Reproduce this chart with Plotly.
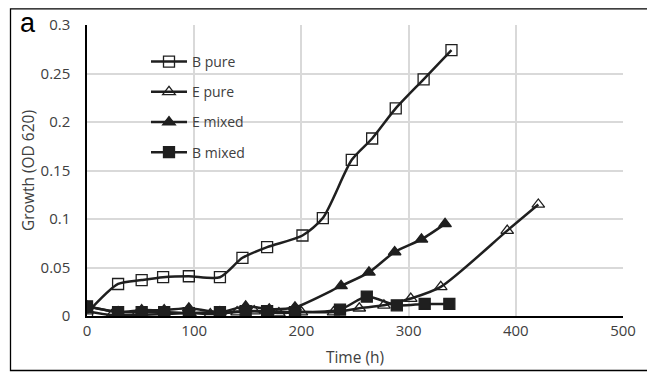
import plotly.graph_objects as go

# Data
b_pure_t = [0, 29, 51, 71, 95, 124, 145, 168, 201, 220, 247, 266, 288, 314, 340]
b_pure_v = [0.003, 0.033, 0.037, 0.040, 0.041, 0.040, 0.060, 0.071, 0.083, 0.101, 0.161, 0.183, 0.214, 0.244, 0.274]

e_pure_t = [0, 23, 46, 72, 96, 115, 140, 156, 179, 200, 230, 254, 277, 302, 330, 392, 421]
e_pure_v = [0.005, 0.001, 0.001, 0.002, 0.003, 0.002, 0.004, 0.005, 0.003, 0.004, 0.004, 0.008, 0.011, 0.018, 0.030, 0.088, 0.115]

e_mixed_t = [0, 29, 51, 72, 95, 124, 148, 170, 194, 237, 263, 287, 312, 334]
e_mixed_v = [0.010, 0.004, 0.006, 0.006, 0.008, 0.004, 0.010, 0.007, 0.009, 0.031, 0.045, 0.066, 0.079, 0.095]

b_mixed_t = [0, 29, 51, 72, 95, 124, 148, 168, 194, 236, 261, 289, 315, 338]
b_mixed_v = [0.010, 0.004, 0.004, 0.004, 0.003, 0.004, 0.005, 0.005, 0.004, 0.0066, 0.020, 0.011, 0.0124, 0.0124]

x_ticks = [0, 100, 200, 300, 400, 500]
y_ticks = [0, 0.05, 0.1, 0.15, 0.2, 0.25, 0.3]
y_ticktext = ["0", "0.05", "0.1", "0.15", "0.2", "0.25", "0.3"]

LINE = "#1f1f1f"
FONT = "Open Sans"
TXT = "#404040"

series = [
    ("B pure", b_pure_t, b_pure_v, "square-open", 11),
    ("E pure", e_pure_t, e_pure_v, "triangle-up-open", 11),
    ("E mixed", e_mixed_t, e_mixed_v, "triangle-up", 11),
    ("B mixed", b_mixed_t, b_mixed_v, "square", 11),
]

fig = go.Figure()
for i, (name, t, v, sym, sz) in enumerate(series):
    fig.add_trace(go.Scatter(
        x=t, y=v, name=name, mode="lines+markers",
        line=dict(color=LINE, width=2.5, shape="spline", smoothing=0.7),
        marker=dict(symbol=sym, size=sz, color=LINE,
                    line=dict(color=LINE, width=1.3)),
        legendgroup=f"g{i}",
    ))

# The page body has an 8px margin, so the figure is sized to fill the rest of the window
OFF = 8
W, H = 655 - OFF, 372 - OFF
# plot area in page pixels: x 87..622.7, y 25..315.7
L, R, T, B = 87 - OFF, 32, 25 - OFF, 56
pw, ph = W - L - R, H - T - B

def px(xp):  # page x -> paper x
    return (xp - OFF - L) / pw

def py(yp):  # page y -> paper y
    return 1 - (yp - OFF - T) / ph

fig.update_layout(
    width=W, height=H,
    margin=dict(l=L, r=R, t=T, b=B, autoexpand=False),
    paper_bgcolor="white", plot_bgcolor="white",
    font=dict(family=FONT, size=14, color=TXT),
    showlegend=True,
    legend=dict(x=px(146), y=py(46), xanchor="left", yanchor="top",
                bgcolor="rgba(0,0,0,0)", traceorder="grouped",
                tracegroupgap=9, itemwidth=36,
                font=dict(family=FONT, size=14, color=TXT)),
    xaxis=dict(range=[0, 500], tickvals=x_ticks, showgrid=True, automargin=False,
               gridcolor="#d9d9d9", gridwidth=1.5, zeroline=False,
               showline=True, linecolor="#000000", linewidth=1.5,
               ticks="", tickfont=dict(size=15, color=TXT),
               title=dict(text="Time (h)", font=dict(size=15.5, color=TXT), standoff=13)),
    yaxis=dict(range=[0, 0.3], tickvals=y_ticks, ticktext=y_ticktext, automargin=False,
               showgrid=True, gridcolor="#d9d9d9", gridwidth=1.5, zeroline=False,
               showline=True, linecolor="#000000", linewidth=1.5,
               ticks="", ticklabelstandoff=12, tickfont=dict(size=15, color=TXT),
               title=dict(text="Growth (OD 620)", font=dict(size=15.5, color=TXT), standoff=2)),
    shapes=[dict(type="rect", xref="paper", yref="paper",
                 x0=px(10.5), x1=px(650), y0=py(370.5), y1=py(8.8),
                 line=dict(color="#000000", width=1.3), fillcolor="rgba(0,0,0,0)",
                 layer="above")],
    annotations=[dict(text="a", xref="paper", yref="paper",
                      x=px(18), y=py(23), xanchor="left", yanchor="middle",
                      showarrow=False, font=dict(family="Liberation Sans", size=27, color="#000000"))],
)

fig.write_html("out.html")
